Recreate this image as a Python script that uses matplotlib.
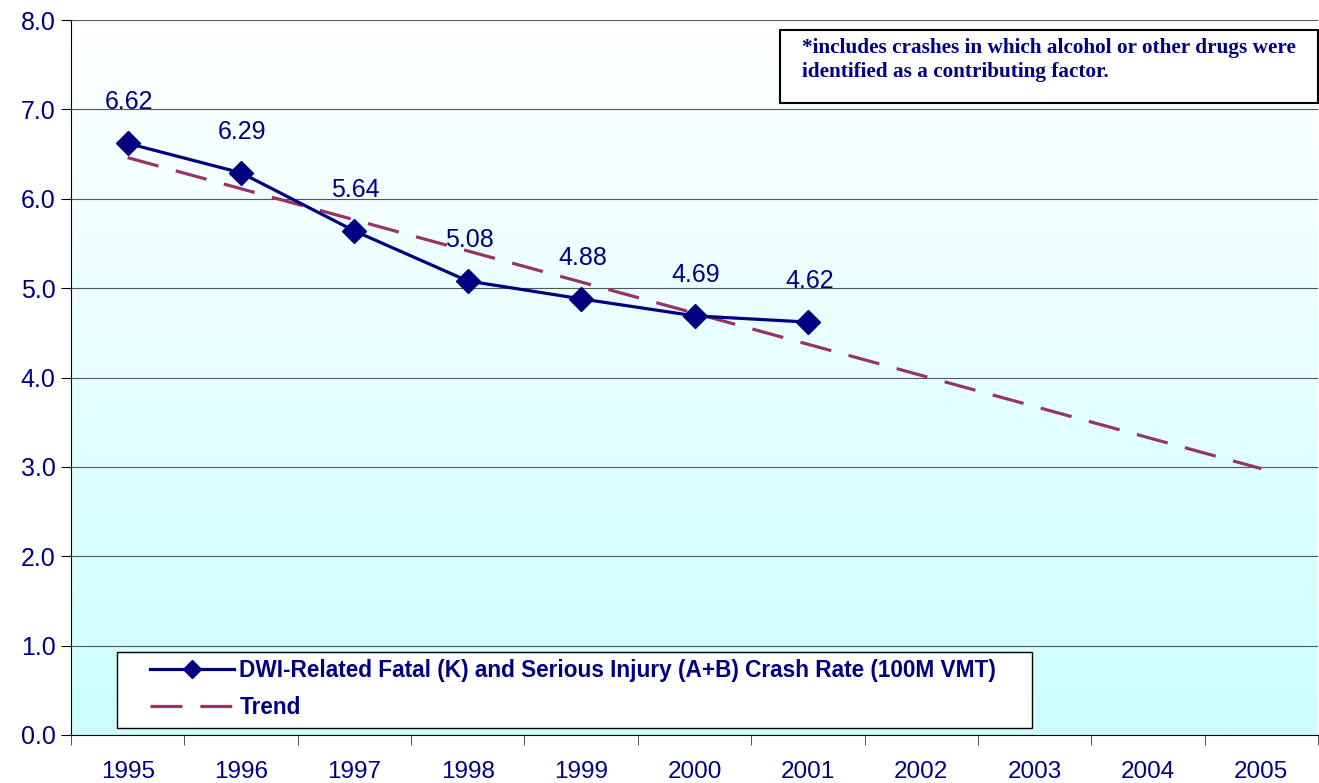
import matplotlib
matplotlib.use("Agg")
import matplotlib.pyplot as plt
import numpy as np
from matplotlib.colors import LinearSegmentedColormap

# Values
years = ['1995', '1996', '1997', '1998', '1999', '2000', '2001',
         '2002', '2003', '2004', '2005']
crash_rate = [6.62, 6.29, 5.64, 5.08, 4.88, 4.69, 4.62]
trend_years = ['1995', '2005']
trend_values = [6.46, 2.98]

series_label = 'DWI-Related Fatal (K) and Serious Injury (A+B) Crash Rate (100M VMT)'
trend_label = 'Trend'
note = '*includes crashes in which alcohol or other drugs were\nidentified as a contributing factor.'

navy = '#000080'
maroon = '#993366'

plt.rcParams['font.family'] = ['Liberation Sans', 'DejaVu Sans']

W, H = 1319, 783
fig = plt.figure(figsize=(W / 100, H / 100), dpi=100)
ax = fig.add_axes([71 / W, 48 / H, 1247 / W, 715 / H])

x = np.arange(len(years))
ax.set_xlim(-0.5, len(years) - 0.5)
ax.set_ylim(0, 8)

# background gradient white -> light cyan
cmap = LinearSegmentedColormap.from_list('bg', ['#CCFFFF', '#FFFFFF'])
grad = np.linspace(0, 1, 256).reshape(-1, 1)
ax.imshow(grad, extent=(-0.5, len(years) - 0.5, 0, 8), origin='lower',
          cmap=cmap, aspect='auto', zorder=0)

ax.set_yticks(np.arange(0, 9, 1))
ax.set_yticklabels([f'{v:.1f}' for v in np.arange(0, 9, 1)])
ax.yaxis.grid(True, color='#555555', linewidth=0.8, zorder=1)

ax.set_xticks(x)
ax.set_xticklabels(years)
ax.set_xticks(np.arange(-0.5, len(years), 1), minor=True)
ax.tick_params(axis='x', which='major', length=0, pad=19, labelsize=17.5, labelcolor=navy)
ax.tick_params(axis='x', which='minor', length=7, direction='out', color='#333333')
ax.tick_params(axis='y', length=7, direction='out', labelsize=18, labelcolor=navy, pad=4)

for s in ['right', 'top']:
    ax.spines[s].set_visible(False)
ax.spines['left'].set_color('black')
ax.spines['bottom'].set_color('black')

ax.plot([years.index(y) for y in trend_years], trend_values, color=maroon,
        linewidth=2.3, dashes=(10, 5.6), zorder=3, label=trend_label)
xs = np.arange(len(crash_rate))
ax.plot(xs, crash_rate, color=navy, linewidth=2.3, marker='D', markersize=12,
        zorder=4, label=series_label)

for xi, v in zip(xs, crash_rate):
    ax.annotate(f'{v:.2f}', (xi, v), xytext=(1, 21), textcoords='offset points',
                ha='center', va='bottom', fontsize=18, color=navy)

# legend frame drawn separately so the contents can sit inset like the original
leg_frame = plt.Rectangle(((117 - 71) / 1247, 7 / 715), 915 / 1247, 76 / 715,
                          transform=ax.transAxes, facecolor='white',
                          edgecolor='black', linewidth=1.0, zorder=6)
ax.add_patch(leg_frame)
handles, labels = ax.get_legend_handles_labels()
leg = ax.legend(handles[::-1], labels[::-1], loc='center left',
                bbox_to_anchor=((150 - 71) / 1247, 46 / 715),
                frameon=False, prop={'weight': 'bold', 'size': 16.3},
                handlelength=3.7, handletextpad=0.25, borderpad=0,
                borderaxespad=0, labelspacing=0.62, markerscale=0.8)
leg.set_zorder(7)
for t in leg.get_texts():
    t.set_color(navy)

fig.text(802 / W, 1 - 60 / H, note, fontsize=15.3, fontweight='bold',
         family=['Liberation Serif', 'DejaVu Serif'], color=navy,
         va='center', ha='left', linespacing=1.2, zorder=6)
box = plt.Rectangle((780 / W, 1 - 103 / H), 538 / W, 73 / H,
                    transform=fig.transFigure, facecolor='white',
                    edgecolor='black', linewidth=1.5, zorder=5)
fig.patches.append(box)

fig.savefig('out.png', dpi=100)
